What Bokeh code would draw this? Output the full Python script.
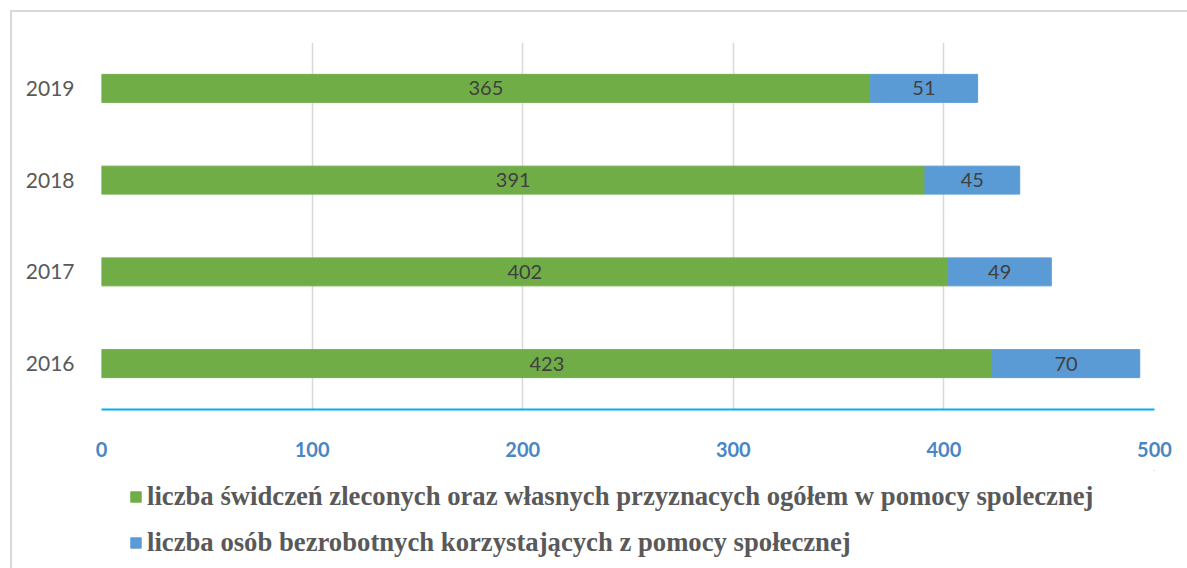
from bokeh.plotting import figure
from bokeh.layouts import column
from bokeh.models import (FactorRange, Range1d, FixedTicker, Legend, LegendItem,
                          ColumnDataSource)
from bokeh.core.properties import value
from bokeh.embed import file_html
from bokeh.resources import INLINE

years = ["2016", "2017", "2018", "2019"]
swiadczenia = [423, 402, 391, 365]
bezrobotni = [70, 49, 45, 51]
x_ticks = [0, 100, 200, 300, 400, 500]
series_names = [
    "liczba świdczeń zleconych oraz własnych przyznacych ogółem w pomocy spolecznej",
    "liczba osób bezrobotnych korzystających z pomocy społecznej",
]
colors = ["#70ad47", "#5b9bd5"]

left_a = [0] * len(years)
right_a = swiadczenia
left_b = swiadczenia
right_b = [a + b for a, b in zip(swiadczenia, bezrobotni)]

src = ColumnDataSource(dict(
    y=years, la=left_a, ra=right_a, lb=left_b, rb=right_b,
    ma=[(l + r) / 2 for l, r in zip(left_a, right_a)],
    mb=[(l + r) / 2 for l, r in zip(left_b, right_b)],
    ta=[str(v) for v in swiadczenia], tb=[str(v) for v in bezrobotni],
))

p = figure(width=1175, height=458, output_backend="svg", toolbar_location=None,
           y_range=FactorRange(factors=years, range_padding=0),
           x_range=Range1d(0, 500),
           min_border_left=89, min_border_right=33, min_border_top=30, min_border_bottom=61)
p.outline_line_color = None
p.background_fill_color = "white"
p.border_fill_color = "white"

p.hbar(y="y", left="la", right="ra", height=0.305, source=src,
       fill_color=colors[0], line_color=colors[0])
p.hbar(y="y", left="lb", right="rb", height=0.305, source=src,
       fill_color=colors[1], line_color=colors[1])

for xcol, tcol in (("ma", "ta"), ("mb", "tb")):
    p.text(x=xcol, y="y", text=tcol, source=src, text_align="center",
           text_baseline="middle", text_color="#404040",
           text_font=value("Lato"), text_font_size="20px")

p.xaxis.ticker = FixedTicker(ticks=x_ticks)
p.xaxis.axis_line_color = "#00b0f0"
p.xaxis.axis_line_width = 2
p.xaxis.major_tick_line_color = None
p.xaxis.minor_tick_line_color = None
p.xaxis.major_label_text_color = "#4a86c5"
p.xaxis.major_label_text_font = "Lato"
p.xaxis.major_label_text_font_style = "bold"
p.xaxis.major_label_text_font_size = "20px"
p.xaxis.major_label_standoff = 26

p.yaxis.axis_line_color = None
p.yaxis.major_tick_line_color = None
p.yaxis.minor_tick_line_color = None
p.yaxis.major_label_text_color = "#595959"
p.yaxis.major_label_text_font = "Lato"
p.yaxis.major_label_text_font_size = "21px"
p.yaxis.major_label_standoff = 21

p.xgrid.ticker = FixedTicker(ticks=x_ticks)
p.xgrid.grid_line_color = "#d9d9d9"
p.xgrid.grid_line_width = 1.5
p.ygrid.grid_line_color = None

# legend panel (separate figure so the legend is not clipped)
lg = figure(width=1175, height=98, output_backend="svg", toolbar_location=None,
            x_range=Range1d(0, 1), y_range=Range1d(0, 1),
            x_axis_location=None, y_axis_location=None,
            min_border=0, min_border_left=0, min_border_right=0,
            min_border_top=0, min_border_bottom=0)
lg.grid.visible = False
lg.outline_line_color = None
lg.background_fill_color = "white"
lg.border_fill_color = "white"
dummy = ColumnDataSource(dict(y=[5], l=[5], r=[6]))  # outside the visible range
g1 = lg.hbar(y="y", left="l", right="r", height=0.1, source=dummy,
             fill_color=colors[0], line_color=colors[0])
g2 = lg.hbar(y="y", left="l", right="r", height=0.1, source=dummy,
             fill_color=colors[1], line_color=colors[1])

legend = Legend(items=[LegendItem(label=series_names[0], renderers=[g1]),
                       LegendItem(label=series_names[1], renderers=[g2])],
                location=(28, 10), orientation="vertical",
                glyph_width=13, glyph_height=13, label_height=30, spacing=15,
                padding=0, margin=0, border_line_color=None, background_fill_alpha=0,
                label_text_font="Liberation Serif", label_text_font_style="bold",
                label_text_font_size="26.7px", label_text_color="#595959",
                label_standoff=5)
lg.add_layout(legend, "center")

layout = column(p, lg, spacing=0,
                styles={"border-left": "2px solid #d9d9d9",
                        "border-top": "2px solid #d9d9d9",
                        "margin-left": "10px", "margin-top": "10px"})

open("out.html", "w").write(file_html(layout, INLINE))
